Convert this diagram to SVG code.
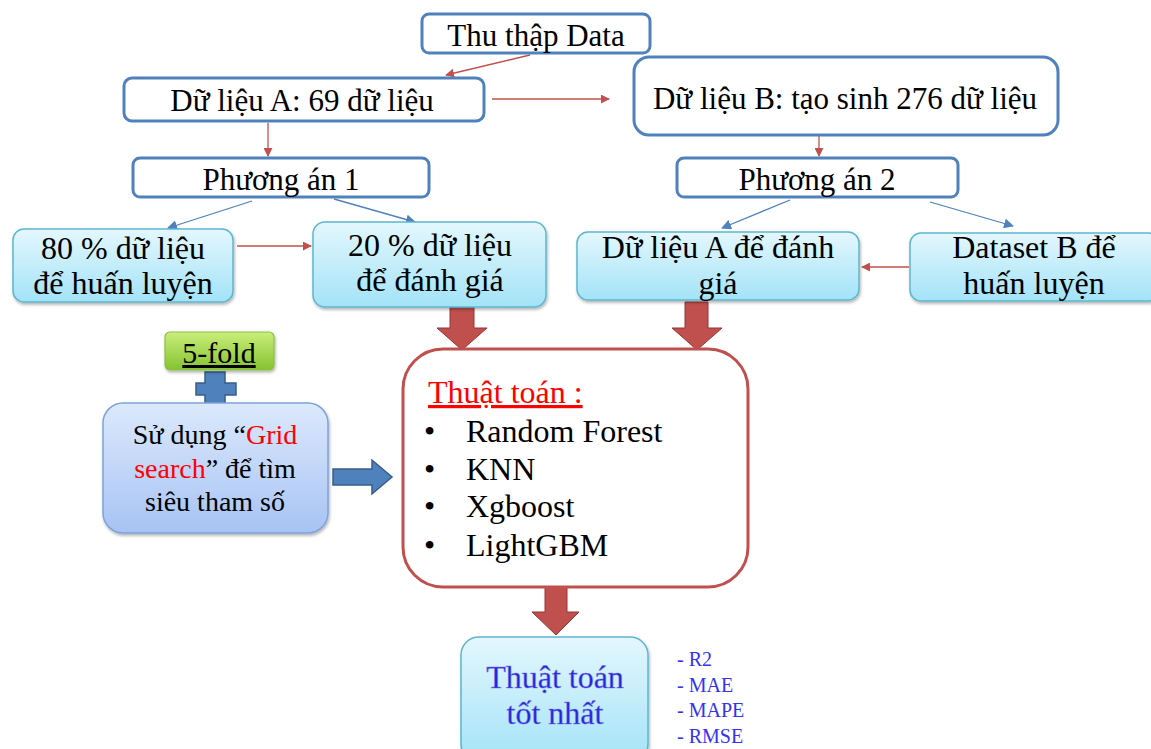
<svg xmlns="http://www.w3.org/2000/svg" width="1151" height="749" viewBox="0 0 1151 749">
<defs>
<linearGradient id="cyan" x1="0" y1="0" x2="0" y2="1"><stop offset="0" stop-color="#e4f7fd"/><stop offset="1" stop-color="#a3e3f7"/></linearGradient>
<linearGradient id="lblue" x1="0" y1="0" x2="0" y2="1"><stop offset="0" stop-color="#dce9fc"/><stop offset="1" stop-color="#a7c3f4"/></linearGradient>
<linearGradient id="green" x1="0" y1="0" x2="0" y2="1"><stop offset="0" stop-color="#c9ef7a"/><stop offset="1" stop-color="#86c232"/></linearGradient>
<filter id="sh" x="-10%" y="-10%" width="130%" height="130%"><feDropShadow dx="1" dy="2" stdDeviation="1.5" flood-color="#000" flood-opacity="0.3"/></filter>
<marker id="ar" viewBox="0 0 10 10" refX="9" refY="5" markerWidth="9" markerHeight="9" markerUnits="userSpaceOnUse" orient="auto"><path d="M0,0 L10,5 L0,10 z" fill="#c0504d"/></marker>
<marker id="ab" viewBox="0 0 10 10" refX="9" refY="5" markerWidth="10" markerHeight="10" markerUnits="userSpaceOnUse" orient="auto"><path d="M0,0 L10,5 L0,10 z" fill="#4f81bd"/></marker>
</defs>
<style>
.t{font-family:"Liberation Serif","Times New Roman",serif;fill:#000;text-anchor:middle}
.l{font-family:"Liberation Serif","Times New Roman",serif;fill:#000;font-size:32px}
.b1{fill:#fff;stroke:#4f81bd;stroke-width:3}
.c{fill:url(#cyan);stroke:#5cb6d0;stroke-width:1.5;filter:url(#sh)}
.rl{stroke:#c0504d;stroke-width:1.3;fill:none}
.bl{stroke:#4f81bd;stroke-width:1.3;fill:none}
.big{fill:#c0504d;stroke:#943634;stroke-width:1}
</style>
<rect width="1151" height="749" fill="#fff"/>
<g id="connectors">
<line class="rl" x1="530" y1="55" x2="446" y2="75" marker-end="url(#ar)"/>
<line class="rl" x1="492" y1="99" x2="609" y2="99" marker-end="url(#ar)"/>
<line class="rl" x1="268" y1="123" x2="268" y2="156" marker-end="url(#ar)"/>
<line class="rl" x1="819" y1="135" x2="819" y2="156" marker-end="url(#ar)"/>
<line class="bl" x1="252" y1="201" x2="168" y2="228" marker-end="url(#ab)"/>
<line class="bl" x1="334" y1="199" x2="415" y2="222" marker-end="url(#ab)"/>
<line class="bl" x1="790" y1="200" x2="722" y2="228" marker-end="url(#ab)"/>
<line class="bl" x1="930" y1="202" x2="1013" y2="226" marker-end="url(#ab)"/>
<line class="rl" x1="237" y1="246" x2="311" y2="246" marker-end="url(#ar)"/>
<line class="rl" x1="909" y1="267" x2="862" y2="267" marker-end="url(#ar)"/>
<path class="big" d="M450,307 H474 V328 H487 L462,350 L437,328 H450 Z"/>
<path class="big" d="M685,302 H708 V328 H722 L697,350 L672,328 H685 Z"/>
<path class="big" d="M545,587 H567 V612 H579 L556,635 L532,612 H545 Z"/>
<path d="M333,469 H372 V460 L392,477 L372,494 V485 H333 Z" fill="#4f81bd" stroke="#385d8a" stroke-width="1.5"/>
<path d="M205,372 H225 V383 H236 V395 H225 V405 H205 V395 H196 V383 H205 Z" fill="#4f81bd" stroke="#385d8a" stroke-width="1.5"/>
</g>
<g id="thu-thap"><rect class="b1" x="422" y="14" width="228" height="39" rx="7"/><text class="t" x="536" y="46" font-size="31">Thu thập Data</text></g>
<g id="du-lieu-a"><rect class="b1" x="124" y="78" width="360" height="43" rx="8"/><text class="t" x="302" y="111" font-size="31">Dữ liệu A: 69 dữ liệu</text></g>
<g id="du-lieu-b"><rect class="b1" x="634" y="57" width="424" height="78" rx="15"/><text class="t" x="845" y="109" font-size="31">Dữ liệu B: tạo sinh 276 dữ liệu</text></g>
<g id="phuong-an-1"><rect class="b1" x="133" y="158" width="296" height="39" rx="7"/><text class="t" x="281" y="190" font-size="31">Phương án 1</text></g>
<g id="phuong-an-2"><rect class="b1" x="677" y="158" width="281" height="39" rx="7"/><text class="t" x="817" y="190" font-size="31">Phương án 2</text></g>
<g id="p80"><rect class="c" x="13" y="229" width="220" height="73" rx="11"/><text class="t" x="123" y="259" font-size="32">80 % dữ liệu</text><text class="t" x="123" y="294" font-size="32">để huấn luyện</text></g>
<g id="p20"><rect class="c" x="313" y="222" width="233" height="85" rx="12"/><text class="t" x="430" y="256" font-size="32">20 % dữ liệu</text><text class="t" x="430" y="291" font-size="32">để đánh giá</text></g>
<g id="a-danh-gia"><rect class="c" x="577" y="232" width="282" height="68" rx="11"/><text class="t" x="718" y="258" font-size="32">Dữ liệu A để đánh</text><text class="t" x="718" y="294" font-size="32">giá</text></g>
<g id="b-huan-luyen"><rect class="c" x="910" y="233" width="250" height="68" rx="11"/><text class="t" x="1034" y="258" font-size="32">Dataset B để</text><text class="t" x="1034" y="294" font-size="32">huấn luyện</text></g>
<g id="five-fold"><rect x="165" y="332" width="109" height="38" rx="5" fill="url(#green)" stroke="#8cbf45" stroke-width="1.2" filter="url(#sh)"/><text class="t" x="219" y="363" font-size="30" text-decoration="underline">5-fold</text></g>
<g id="grid-search"><rect x="103" y="403" width="225" height="130" rx="20" fill="url(#lblue)" stroke="#7fa3d8" stroke-width="1.5" filter="url(#sh)"/>
<text class="t" x="215" y="444" font-size="28">Sử dụng “<tspan fill="#ff0000">Grid</tspan></text>
<text class="t" x="215" y="478" font-size="28"><tspan fill="#ff0000">search</tspan>” để tìm</text>
<text class="t" x="215" y="511" font-size="28">siêu tham số</text></g>
<g id="thuat-toan"><rect x="403" y="349" width="345" height="238" rx="40" fill="#fff" stroke="#c0504d" stroke-width="3"/>
<text class="l" x="428" y="403" style="fill:#ff0000" text-decoration="underline">Thuật toán :</text>
<text class="l" x="424" y="442">•</text><text class="l" x="466" y="442">Random Forest</text>
<text class="l" x="424" y="480">•</text><text class="l" x="466" y="480">KNN</text>
<text class="l" x="424" y="517">•</text><text class="l" x="466" y="517">Xgboost</text>
<text class="l" x="424" y="556">•</text><text class="l" x="466" y="556">LightGBM</text>
</g>
<g id="tot-nhat"><rect class="c" x="461" y="637" width="187" height="125" rx="18"/>
<text class="t" x="555" y="688" font-size="32" style="fill:#2424d8" stroke="#7f7ff0" stroke-width="0.5">Thuật toán</text>
<text class="t" x="555" y="724" font-size="32" style="fill:#2424d8" stroke="#7f7ff0" stroke-width="0.5">tốt nhất</text></g>
<g id="metrics" font-family="Liberation Serif" font-size="20" fill="#3333ee">
<text x="677" y="666">- R2</text><text x="677" y="692">- MAE</text><text x="677" y="717">- MAPE</text><text x="677" y="743">- RMSE</text></g>
</svg>
